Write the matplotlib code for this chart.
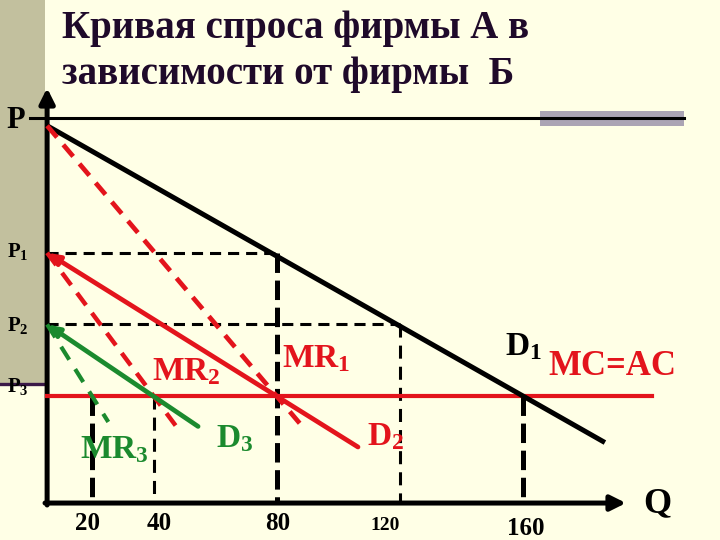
import matplotlib
matplotlib.use("Agg")
import matplotlib.pyplot as plt
from matplotlib.patches import Rectangle

plt.rcParams['font.family'] = ['Liberation Serif', 'DejaVu Serif']
plt.rcParams['font.weight'] = 'bold'
plt.rcParams['mathtext.fontset'] = 'custom'
plt.rcParams['mathtext.rm'] = 'Liberation Serif:bold'
plt.rcParams['mathtext.it'] = 'Liberation Serif:bold'
plt.rcParams['mathtext.bf'] = 'Liberation Serif:bold'
plt.rcParams['lines.scale_dashes'] = False

# ---------------- data ----------------
title_lines = ["Кривая спроса фирмы А в", "зависимости от фирмы  Б"]
q_ticks = [20, 40, 80, 120, 160]
q_tick_labels = ["20", "40", "80", "120", "160"]
p_top, p1, p2, p3 = 231, 160, 120, 80
mc_ac = 80
q_axis0, p_axis0 = 5.4, 20.2

d1_q = [5.4, 186.8];  d1_p = [231, 54]
mr1_q = [5.4, 88.9];  mr1_p = [231, 62]
d2_q = [5.4, 106.5];  d2_p = [160, 51.5]
mr2_q = [5.4, 48.7];  mr2_p = [160, 60]
d3_q = [5.4, 54.5];   d3_p = [120, 63]
mr3_q = [5.4, 25.3];  mr3_p = [120, 65.5]
mc_q = [5.4, 202]

# ---------------- styles ----------------
RED = '#E3141C'
GREEN = '#1B8A2E'
TITLE = '#1F0A2A'
BG = '#FFFFE6'
TAN = '#C2C09E'

W, H = 720, 540
X0, SX, Y80, SY = 30.5, 3.075, 396, 1.79


def px(x, y):
    return ((x - X0) / SX, 80 + (Y80 - y) / SY)


fig = plt.figure(figsize=(7.2, 5.4), dpi=100)
fig.patch.set_facecolor(BG)
ax = fig.add_axes([0, 0, 1, 1])
ax.set_xlim(-X0 / SX, (W - X0) / SX)
ax.set_ylim(80 - (H - Y80) / SY, 80 + Y80 / SY)
ax.axis('off')

# decoration
ta = ax.transAxes
ax.add_patch(Rectangle((0, 1 - 383 / H), 45 / W, 383 / H, transform=ta,
                       color=TAN, zorder=0, lw=0))
ax.plot([0, 46 / W], [1 - 384 / H] * 2, transform=ta, color='#3A1848', lw=2.4, zorder=1)
ax.add_patch(Rectangle((540 / W, 1 - 126 / H), 144 / W, 15 / H, transform=ta,
                       color='#ABA4B4', zorder=1, lw=0))
ax.plot([30 / W, 684 / W], [1 - 118 / H] * 2, transform=ta, color='black', lw=2.2, zorder=2)

# title
for i, line in enumerate(title_lines):
    ax.text(62 / W, 1 - (38 + 46 * i) / H, line, transform=ta, fontsize=28,
            color=TITLE, ha='left', va='baseline', fontweight='bold')

# axes arrows
arrow = dict(arrowstyle='-|>,head_length=0.9,head_width=0.45', color='black',
             lw=3.6, shrinkA=0, shrinkB=0)
ax.annotate('', xy=(q_axis0, px(0, 88)[1]), xytext=(q_axis0, px(0, 505)[1]), arrowprops=arrow)
ax.annotate('', xy=(px(626, 0)[0], p_axis0), xytext=(px(45, 0)[0], p_axis0), arrowprops=arrow)

# guides (black dashed)
ax.plot([q_axis0, 80], [p1, p1], color='black', lw=2.2, dashes=(8, 5), zorder=3)
ax.plot([q_axis0, 120], [p2, p2], color='black', lw=2.2, dashes=(8, 5), zorder=3)
for q, top, lw, ds in [(20, mc_ac, 3.6, (14, 5.5)), (40, mc_ac, 2.2, (9.4, 5.8)),
                       (80, p1, 3.6, (14, 5.5)), (120, p2, 2.2, (9.4, 5.8)),
                       (160, mc_ac, 3.6, (14, 5.5))]:
    ax.plot([q, q], [top, p_axis0], color='black', lw=lw, dashes=ds, zorder=3)

# MC = AC
ax.plot(mc_q, [mc_ac, mc_ac], color=RED, lw=3.0, zorder=4)

# demand & MR curves
ax.plot(d1_q, d1_p, color='black', lw=3.6, zorder=5, solid_capstyle='butt')
ax.plot(mr1_q, mr1_p, color=RED, lw=3.4, dashes=(11, 7), zorder=5)
ax.plot(mr2_q, mr2_p, color=RED, lw=3.2, dashes=(11, 7), zorder=5)
ax.plot(mr3_q, mr3_p, color=GREEN, lw=3.0, dashes=(11, 8), zorder=5)
head = '-|>,head_length=0.7,head_width=0.3'
ax.annotate('', xy=(d2_q[0], d2_p[0]), xytext=(d2_q[1], d2_p[1]),
            arrowprops=dict(arrowstyle=head, color=RED, lw=3.4, shrinkA=0, shrinkB=0), zorder=6)
ax.annotate('', xy=(d3_q[0], d3_p[0]), xytext=(d3_q[1], d3_p[1]),
            arrowprops=dict(arrowstyle=head, color=GREEN, lw=3.4, shrinkA=0, shrinkB=0), zorder=6)

# price labels
ax.text(*px(6, 128), 'P', fontsize=22, ha='left', va='baseline', color='black')
for lab, y in [(r'$\mathrm{P}_1$', 257), (r'$\mathrm{P}_2$', 331), (r'$\mathrm{P}_3$', 392)]:
    ax.text(*px(7, y), lab, fontsize=15, ha='left', va='baseline', color='black')

# Q tick labels
for lab, x, y, fs in zip(q_tick_labels, [87, 159, 278, 385, 526],
                         [530, 530, 530, 530, 535], [18, 18, 18, 14, 18]):
    ax.text(*px(x, y), lab, fontsize=fs, ha='center', va='baseline', color='black')
ax.text(*px(643, 512), 'Q', fontsize=26, ha='left', va='baseline', color='black')

# curve labels
labels = [(r'$\mathrm{MR}_2$', 152, 380, RED, 24), (r'$\mathrm{MR}_1$', 282, 367, RED, 24),
          (r'$\mathrm{D}_1$', 505, 355, 'black', 24), ('MC=AC', 548, 375, RED, 25),
          (r'$\mathrm{D}_2$', 367, 445, RED, 24), (r'$\mathrm{D}_3$', 216, 447, GREEN, 24),
          (r'$\mathrm{MR}_3$', 80, 458, GREEN, 24)]
for s, x, y, c, fs in labels:
    ax.text(*px(x, y), s, fontsize=fs, ha='left', va='baseline', color=c)

fig.savefig('out.png', dpi=100, facecolor=BG)
